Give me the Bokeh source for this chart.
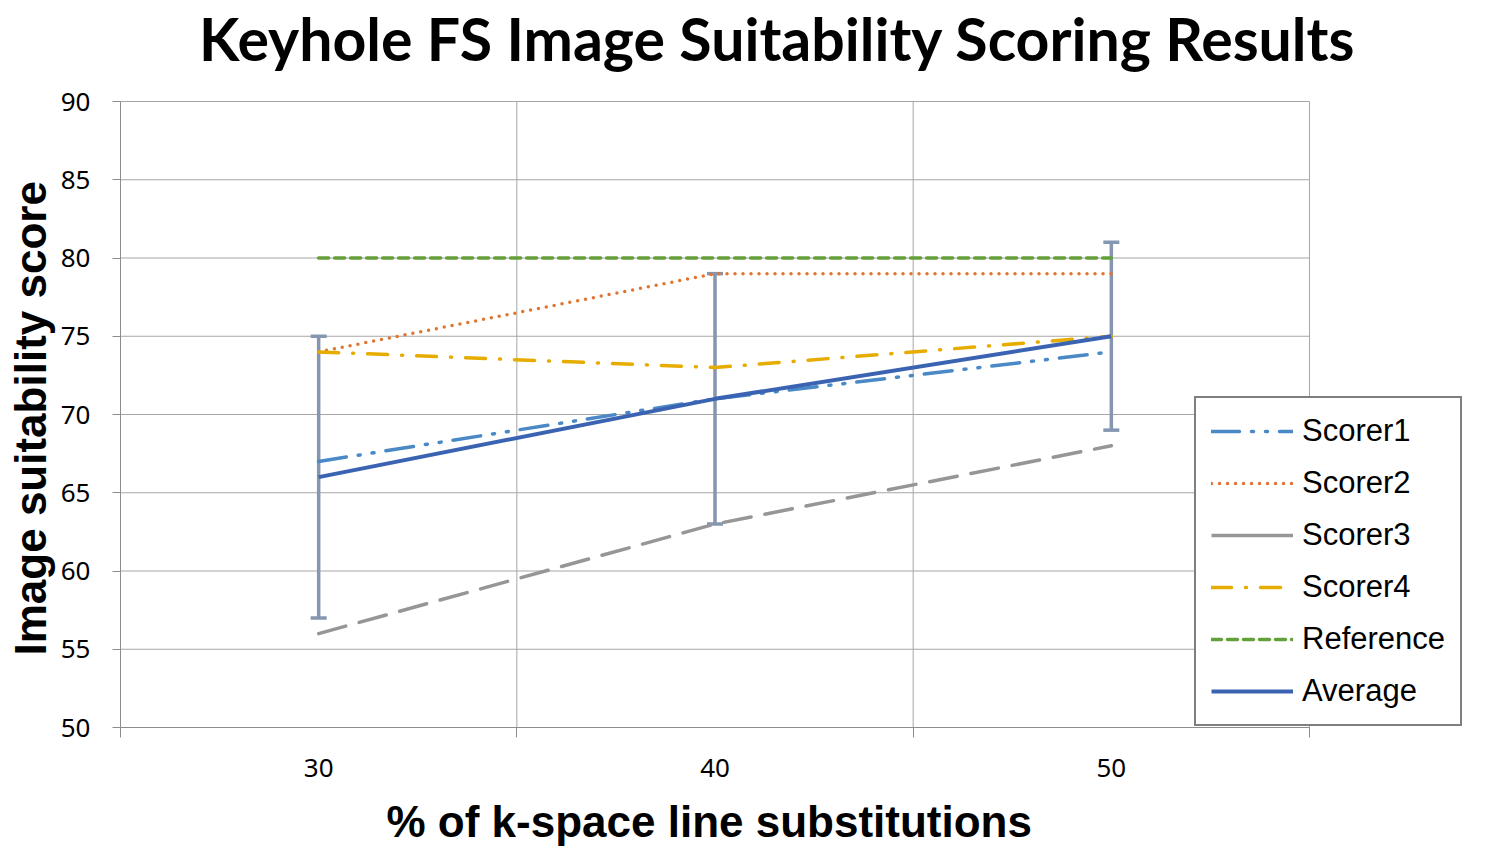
from bokeh.plotting import figure
from bokeh.models import (ColumnDataSource, FixedTicker, Legend, LegendItem, Whisker, TeeHead,
                          Title, Label)
from bokeh.embed import file_html
from bokeh.resources import INLINE

# ---- data ----
substitution_pct = [30, 40, 50]
scorer1 = [67, 71, 74]
scorer2 = [74, 79, 79]
scorer3 = [56, 63, 68]
scorer4 = [74, 73, 75]
reference = [80, 80, 80]
average = [66, 71, 75]
err_lower = [57, 63, 69]
err_upper = [75, 79, 81]
x_tick_labels = ["30", "40", "50"]
y_ticks = [50, 55, 60, 65, 70, 75, 80, 85, 90]
x_grid = [25, 35, 45, 55]

# ---- layout (pixels) ----
PLOT_LEFT = 120        # left edge of the gridded area
PLOT_W = 1189          # width of the gridded area (25..55)
PLOT_H = 626           # height of the gridded area (50..90)
EXTRA_R = 154          # frame extends right so the legend can sit over it
EXTRA_T = 101          # frame extends up to hold the chart title
px_x = PLOT_W / (x_grid[-1] - x_grid[0])
px_y = PLOT_H / (y_ticks[-1] - y_ticks[0])
x_end = x_grid[-1] + EXTRA_R / px_x
y_end = y_ticks[-1] + EXTRA_T / px_y

p = figure(output_backend="svg", toolbar_location=None,
           x_range=(x_grid[0], x_end), y_range=(y_ticks[0], y_end),
           frame_width=PLOT_W + EXTRA_R, frame_height=PLOT_H + EXTRA_T,
           min_border_left=PLOT_LEFT, min_border_right=10,
           min_border_top=0, min_border_bottom=0)
p.outline_line_color = None
p.background_fill_color = "white"
p.border_fill_color = "white"

# chart title (inside the extended frame, above the gridded area)
TITLE_CX = 777         # pixel centre of the title
TITLE_BASE = 38        # pixel anchor of the title text
p.add_layout(Label(x=x_grid[0] + (TITLE_CX - PLOT_LEFT) / px_x,
                   y=y_ticks[-1] + (EXTRA_T - TITLE_BASE) / px_y,
                   text="Keyhole FS Image Suitability Scoring Results",
                   text_align="center", text_baseline="alphabetic",
                   text_font="Lato", text_font_size="59px", text_font_style="bold",
                   text_color="black"))

# x axis
p.xaxis.bounds = (x_grid[0], x_grid[-1])
p.xaxis.ticker = FixedTicker(ticks=substitution_pct, minor_ticks=x_grid)
p.xaxis.major_label_overrides = {v: s for v, s in zip(substitution_pct, x_tick_labels)}
p.xaxis.major_tick_line_color = None
p.xaxis.major_tick_out = 10
p.xaxis.major_tick_in = 0
p.xaxis.minor_tick_line_color = "#8c8c8c"
p.xaxis.minor_tick_out = 10
p.xaxis.minor_tick_in = 0
p.xaxis.axis_line_color = "#8c8c8c"
p.xaxis.major_label_standoff = 21
p.xaxis.major_label_text_font = "Noto Sans"
p.xaxis.major_label_text_font_size = "26px"
p.xaxis.major_label_text_color = "black"

xlabel = Title(text="% of k-space line substitutions", align="left", vertical_align="top",
               text_font="Liberation Sans", text_font_size="44px", text_font_style="bold",
               text_color="black", offset=266, standoff=34)
p.add_layout(xlabel, "below")

# y axis
p.yaxis.bounds = (y_ticks[0], y_ticks[-1])
p.yaxis.ticker = FixedTicker(ticks=y_ticks)
p.yaxis.major_tick_line_color = "#8c8c8c"
p.yaxis.major_tick_out = 8
p.yaxis.major_tick_in = 0
p.yaxis.minor_tick_line_color = None
p.yaxis.axis_line_color = "#8c8c8c"
p.yaxis.major_label_standoff = 22
p.yaxis.major_label_text_font = "Noto Sans"
p.yaxis.major_label_text_font_size = "26px"
p.yaxis.major_label_text_color = "black"

ylabel = Title(text="Image suitability score", align="left", vertical_align="top",
               text_font="Liberation Sans", text_font_size="44px", text_font_style="bold",
               text_color="black", offset=72, standoff=2)
p.add_layout(ylabel, "left")

# grid lines limited to the gridded area
p.xgrid.grid_line_color = None
p.ygrid.grid_line_color = None
p.segment(x0=x_grid[0], x1=x_grid[-1], y0=y_ticks, y1=y_ticks,
          line_color="#a6a6a6", line_width=1, level="underlay")
p.segment(x0=x_grid, x1=x_grid, y0=y_ticks[0], y1=y_ticks[-1],
          line_color="#a6a6a6", line_width=1, level="underlay")

src = ColumnDataSource(dict(x=substitution_pct, s1=scorer1, s2=scorer2, s3=scorer3, s4=scorer4,
                            ref=reference, avg=average, lo=err_lower, up=err_upper))

r1 = p.line("x", "s1", source=src, line_color="#4a89c6", line_width=3.5,
            line_dash="28 12 2 12 2 12", line_cap="round")
r2 = p.line("x", "s2", source=src, line_color="#e07530", line_width=3.5,
            line_dash="0 8", line_cap="round")
r3 = p.line("x", "s3", source=src, line_color="#969696", line_width=3.5,
            line_dash="28 14", line_cap="round")
r4 = p.line("x", "s4", source=src, line_color="#e6ac00", line_width=3.5,
            line_dash="20 14 1 14", line_cap="round")
r5 = p.line("x", "ref", source=src, line_color="#64a03a", line_width=3.5,
            line_dash="10 6", line_cap="round")

whisk = Whisker(source=src, base="x", upper="up", lower="lo", line_color="#8496b0", line_width=3.5,
                upper_head=TeeHead(size=16, line_color="#8496b0", line_width=3.5),
                lower_head=TeeHead(size=16, line_color="#8496b0", line_width=3.5))
p.add_layout(whisk)

r6 = p.line("x", "avg", source=src, line_color="#3a63b2", line_width=4)

# the legend swatch for Scorer3 is a solid line in the original; this renderer draws nothing
nan_src = ColumnDataSource(dict(x=substitution_pct, y=[float("nan")] * len(substitution_pct)))
r3_leg = p.line("x", "y", source=nan_src, line_color="#969696", line_width=3.5)

legend = Legend(items=[
    LegendItem(label="Scorer1", renderers=[r1]),
    LegendItem(label="Scorer2", renderers=[r2]),
    LegendItem(label="Scorer3", renderers=[r3_leg]),
    LegendItem(label="Scorer4", renderers=[r4]),
    LegendItem(label="Reference", renderers=[r5]),
    LegendItem(label="Average", renderers=[r6]),
], location=(1074, 1), orientation="vertical",
    label_text_font="Liberation Sans", label_text_font_size="31px", label_text_color="black",
    glyph_width=82, glyph_height=34, label_height=34, spacing=16, padding=15, margin=0,
    label_standoff=9, border_line_color="black", border_line_width=2,
    background_fill_color="white", background_fill_alpha=1)
p.add_layout(legend, "center")

open("out.html", "w").write(file_html(p, INLINE))
